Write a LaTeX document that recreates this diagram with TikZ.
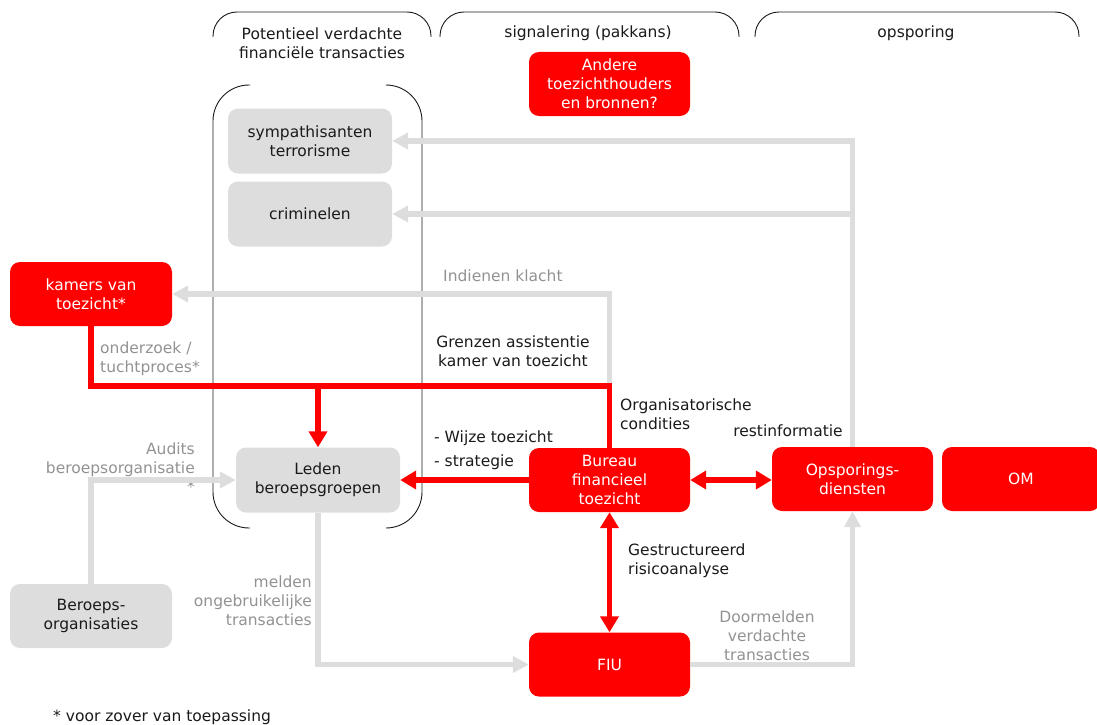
\documentclass[tikz,border=0pt]{standalone}
\usepackage{fontspec}
\setmainfont{DejaVu Sans}
\usetikzlibrary{arrows.meta}
\definecolor{boxred}{HTML}{FF0000}
\definecolor{boxgrey}{HTML}{DDDDDD}
\definecolor{linegrey}{HTML}{DDDDDD}
\definecolor{labelgrey}{HTML}{929292}
\definecolor{ink}{HTML}{1A1A1A}
\tikzset{
  txt/.style={font=\fontsize{15.5}{19}\selectfont},
  greybox/.style={txt, fill=boxgrey, rounded corners=10pt, align=center, text=ink,
    minimum width=164pt, minimum height=65pt, inner sep=0pt},
  redbox/.style={txt, fill=boxred, rounded corners=10pt, align=center, text=white,
    minimum width=161pt, minimum height=64pt, inner sep=0pt},
  greyline/.style={draw=linegrey, line width=5.7pt},
  greyarrow/.style={greyline, -{Triangle[length=16pt,width=16pt]}},
  redline/.style={draw=boxred, line width=5.5pt},
  redarrow/.style={redline, -{Triangle[length=16pt,width=18pt]}},
  bracket/.style={draw=ink, line width=0.9pt},
  blacklabel/.style={txt, text=ink, inner sep=0pt},
  greylabel/.style={txt, text=labelgrey, inner sep=0pt},
}
\begin{document}
\begin{tikzpicture}[x=1pt,y=-1pt]
\useasboundingbox (0,0) rectangle (1097,725);

% column headers with their curly brackets
\draw[bracket, rounded corners=24pt] (213,37) |- (431,12) -- (431,37);
\draw[bracket, rounded corners=24pt] (440,37) |- (739,12) -- (739,37);
\draw[bracket, rounded corners=24pt] (755,37) |- (1079,12) -- (1079,37);
\node[blacklabel, align=center] (hdrA) at (322,43) {Potentieel verdachte\\financiële transacties};
\node[blacklabel] (hdrB) at (588,33) {signalering (pakkans)};
\node[blacklabel] (hdrC) at (916,33) {opsporing};

% enclosure of the first column
\draw[bracket, rounded corners=36pt] (250,85) -| (213,528) -- (250,528);
\draw[bracket, rounded corners=36pt] (388,85) -| (422,528) -- (388,528);

% nodes
\node[greybox] (sym) at (310,141) {sympathisanten\\terrorisme};
\node[greybox] (crim) at (310,214) {criminelen};
\node[greybox] (leden) at (318,480) {Leden\\beroepsgroepen};
\node[greybox, minimum width=162pt, minimum height=64pt] (berorg) at (91,616) {Beroeps-\\organisaties};
\node[redbox] (andere) at (609.5,84) {Andere\\toezichthouders\\en bronnen?};
\node[redbox, minimum width=162pt] (kamers) at (91,294) {kamers van\\toezicht*};
\node[redbox] (bft) at (609.5,480) {Bureau\\financieel\\toezicht};
\node[redbox] (opsp) at (852.5,479) {Opsporings-\\diensten};
\node[redbox, minimum width=158pt] (om) at (1021,479) {OM};
\node[redbox] (fiu) at (609.5,664.5) {FIU};

% labels
\node[greylabel, anchor=west] (lblklacht) at (443,276) {Indienen klacht};
\node[blacklabel, align=center] (lblgrenzen) at (513,351) {Grenzen assistentie\\kamer van toezicht};
\node[greylabel, anchor=west, align=left] (lblonderzoek) at (100,359) {onderzoek /\\tuchtproces*};
\node[blacklabel, anchor=west, align=left] (lblorg) at (620,414) {Organisatorische\\condities};
\node[blacklabel] (lblrest) at (788,431) {restinformatie};
\node[blacklabel, anchor=west, align=left, font=\fontsize{15.5}{24}\selectfont] (lblwijze) at (434,450) {- Wijze toezicht\\- strategie};
\node[greylabel, anchor=east, align=right] (lblaudits) at (195,468) {Audits\\beroepsorganisatie\\*};
\node[greylabel, anchor=east, align=right] (lblmelden) at (312,601) {melden\\ongebruikelijke\\transacties};
\node[blacklabel, anchor=west, align=left] (lblgestr) at (628,561) {Gestructureerd\\risicoanalyse};
\node[greylabel, align=center] (lbldoor) at (767,636) {Doormelden\\verdachte\\transacties};
\node[blacklabel, anchor=west] (lblfoot) at (53,717) {* voor zover van toepassing};

% grey information flows
\draw[greyarrow] (opsp.north) |- (sym.east);
\draw[greyarrow] (opsp.north) |- (crim.east);
\draw[greyarrow] (bft.north) |- (kamers.east);
\draw[greyarrow] (leden.south) |- (fiu.west);
\draw[greyarrow] (fiu.east) -| (opsp.south);
\draw[greyarrow] (berorg.north) |- (leden.west);

% red supervision flows
\coordinate (redrow) at (318,386);
\draw[redline] (kamers.south) |- (bft.north |- redrow) -- (bft.north);
\draw[redarrow] (leden.north |- redrow) -- (leden.north);
\draw[redarrow] (bft.west) -- (leden.east);
\coordinate (restmid) at (732,480);
\draw[redarrow] (restmid) -- (bft.east);
\draw[redarrow] (restmid) -- (opsp.west |- restmid);
\draw[redarrow, {Triangle[length=16pt,width=18pt]}-{Triangle[length=16pt,width=18pt]}] (bft.south) -- (fiu.north);
\end{tikzpicture}
\end{document}
